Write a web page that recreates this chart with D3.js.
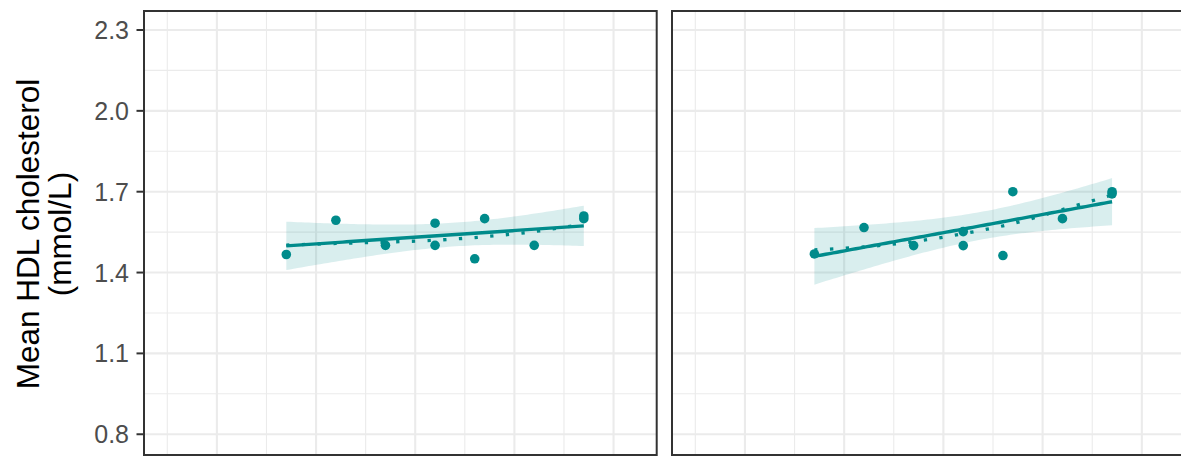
<!DOCTYPE html>
<html><head><meta charset="utf-8">
<script src="https://cdn.jsdelivr.net/npm/d3@7"></script>
<style>html,body{margin:0;padding:0;background:#fff;}svg{display:block;}</style>
</head><body>
<script>
// ---- data ----
const years = [1977, 1982, 1987, 1992, 1992, 1996, 1997, 2002, 2007, 2007];
const hdlPanel1 = [1.467, 1.594, 1.501, 1.583, 1.501, 1.451, 1.600, 1.501, 1.610, 1.600];
const hdlPanel2 = [1.469, 1.567, 1.500, 1.552, 1.500, 1.463, 1.700, 1.600, 1.700, 1.692];
// smoothed (dotted) trend
const smoothYears = [1977, 1982, 1987, 1992, 1997, 2002, 2007];
const smoothPanel1 = [1.502, 1.508, 1.513, 1.520, 1.533, 1.552, 1.580];
const smoothPanel2 = [1.484, 1.495, 1.515, 1.544, 1.582, 1.634, 1.688];
const yTicks = [0.8, 1.1, 1.4, 1.7, 2.0, 2.3];
const yMinorTicks = [0.95, 1.25, 1.55, 1.85, 2.15];
const xMajorTicks = [1970, 1980, 1990, 2000, 2010];
const xMinorTicks = [1965, 1975, 1985, 1995, 2005];
const yTitleLines = ["Mean HDL cholesterol", "(mmol/L)"];

const W = 1181, H = 456;
const teal = "#008B8B";
const svg = d3.select("body").append("svg").attr("width", W).attr("height", H);

const y = d3.scaleLinear().domain([0.723, 2.3705]).range([455, 11]);
const panels = [
  {x0: 144, x1: 656.7, vals: hdlPanel1, smooth: smoothPanel1},
  {x0: 672, x1: 1185, vals: hdlPanel2, smooth: smoothPanel2}
];

function linFit(xs, ys) {
  const n = xs.length, mx = d3.mean(xs), my = d3.mean(ys);
  let sxx = 0, sxy = 0;
  xs.forEach((v, i) => { sxx += (v - mx) ** 2; sxy += (v - mx) * (ys[i] - my); });
  const b = sxy / sxx, a = my - b * mx;
  let sse = 0; xs.forEach((v, i) => { sse += (ys[i] - a - b * v) ** 2; });
  const s = Math.sqrt(sse / (n - 2));
  const tq = 2.306; // t(0.975, df=8)
  return xv => {
    const fit = a + b * xv;
    const se = s * Math.sqrt(1 / n + (xv - mx) ** 2 / sxx);
    return {fit, lo: fit - tq * se, hi: fit + tq * se};
  };
}

// y title
const title = svg.append("g").attr("font-family", "Liberation Sans, Arial, sans-serif").attr("font-size", 31.5).attr("fill", "#000");
[38.5, 71].forEach((bx, i) => {
  title.append("text").attr("transform", `translate(${bx},234) rotate(-90)`).attr("text-anchor", "middle").text(yTitleLines[i]);
});

// y axis ticks & labels
const ax = svg.append("g").attr("font-family", "Liberation Sans, Arial, sans-serif").attr("font-size", 25).attr("fill", "#4D4D4D");
yTicks.forEach(v => {
  ax.append("line").attr("x1", 136.5).attr("x2", 144).attr("y1", y(v)).attr("y2", y(v)).attr("stroke", "#333333").attr("stroke-width", 2);
  ax.append("text").attr("x", 129).attr("y", y(v)).attr("dy", "0.36em").attr("text-anchor", "end").text(d3.format(".1f")(v));
});

panels.forEach((p, pi) => {
  const x = d3.scaleLinear().domain([1962.65, 2014.35]).range([p.x0, p.x1]);
  const g = svg.append("g");
  const clipId = "clip" + pi;
  g.append("clipPath").attr("id", clipId).append("rect").attr("x", p.x0).attr("y", 11).attr("width", p.x1 - p.x0).attr("height", 444);
  const inner = g.append("g").attr("clip-path", `url(#${clipId})`);
  yMinorTicks.forEach(v => inner.append("line").attr("x1", p.x0).attr("x2", p.x1).attr("y1", y(v)).attr("y2", y(v)).attr("stroke", "#EBEBEB").attr("stroke-width", 1.1));
  xMinorTicks.forEach(v => inner.append("line").attr("x1", x(v)).attr("x2", x(v)).attr("y1", 11).attr("y2", 455).attr("stroke", "#EBEBEB").attr("stroke-width", 1.1));
  yTicks.forEach(v => inner.append("line").attr("x1", p.x0).attr("x2", p.x1).attr("y1", y(v)).attr("y2", y(v)).attr("stroke", "#EBEBEB").attr("stroke-width", 2.1));
  xMajorTicks.forEach(v => inner.append("line").attr("x1", x(v)).attr("x2", x(v)).attr("y1", 11).attr("y2", 455).attr("stroke", "#EBEBEB").attr("stroke-width", 2.1));

  const lf = linFit(years, p.vals);
  const xs = d3.range(80).map(i => 1977 + (2007 - 1977) * i / 79);
  const band = xs.map(xv => Object.assign({x: xv}, lf(xv)));
  inner.append("path").datum(band)
    .attr("d", d3.area().x(d => x(d.x)).y0(d => y(d.lo)).y1(d => y(d.hi)))
    .attr("fill", teal).attr("fill-opacity", 0.15);
  inner.append("path").datum(smoothYears.map((yr, i) => [yr, p.smooth[i]]))
    .attr("d", d3.line().curve(d3.curveCatmullRom).x(d => x(d[0])).y(d => y(d[1])))
    .attr("fill", "none").attr("stroke", teal).attr("stroke-width", 3.3).attr("stroke-dasharray", "3.3,12.4");
  inner.append("path").datum(band)
    .attr("d", d3.line().x(d => x(d.x)).y(d => y(d.fit)))
    .attr("fill", "none").attr("stroke", teal).attr("stroke-width", 3.4);
  years.forEach((yr, i) => {
    inner.append("circle").attr("cx", x(yr)).attr("cy", y(p.vals[i])).attr("r", 4.8).attr("fill", teal);
  });
  g.append("rect").attr("x", p.x0).attr("y", 11).attr("width", p.x1 - p.x0).attr("height", 444)
    .attr("fill", "none").attr("stroke", "#333333").attr("stroke-width", 2);
});
</script>
</body></html>
